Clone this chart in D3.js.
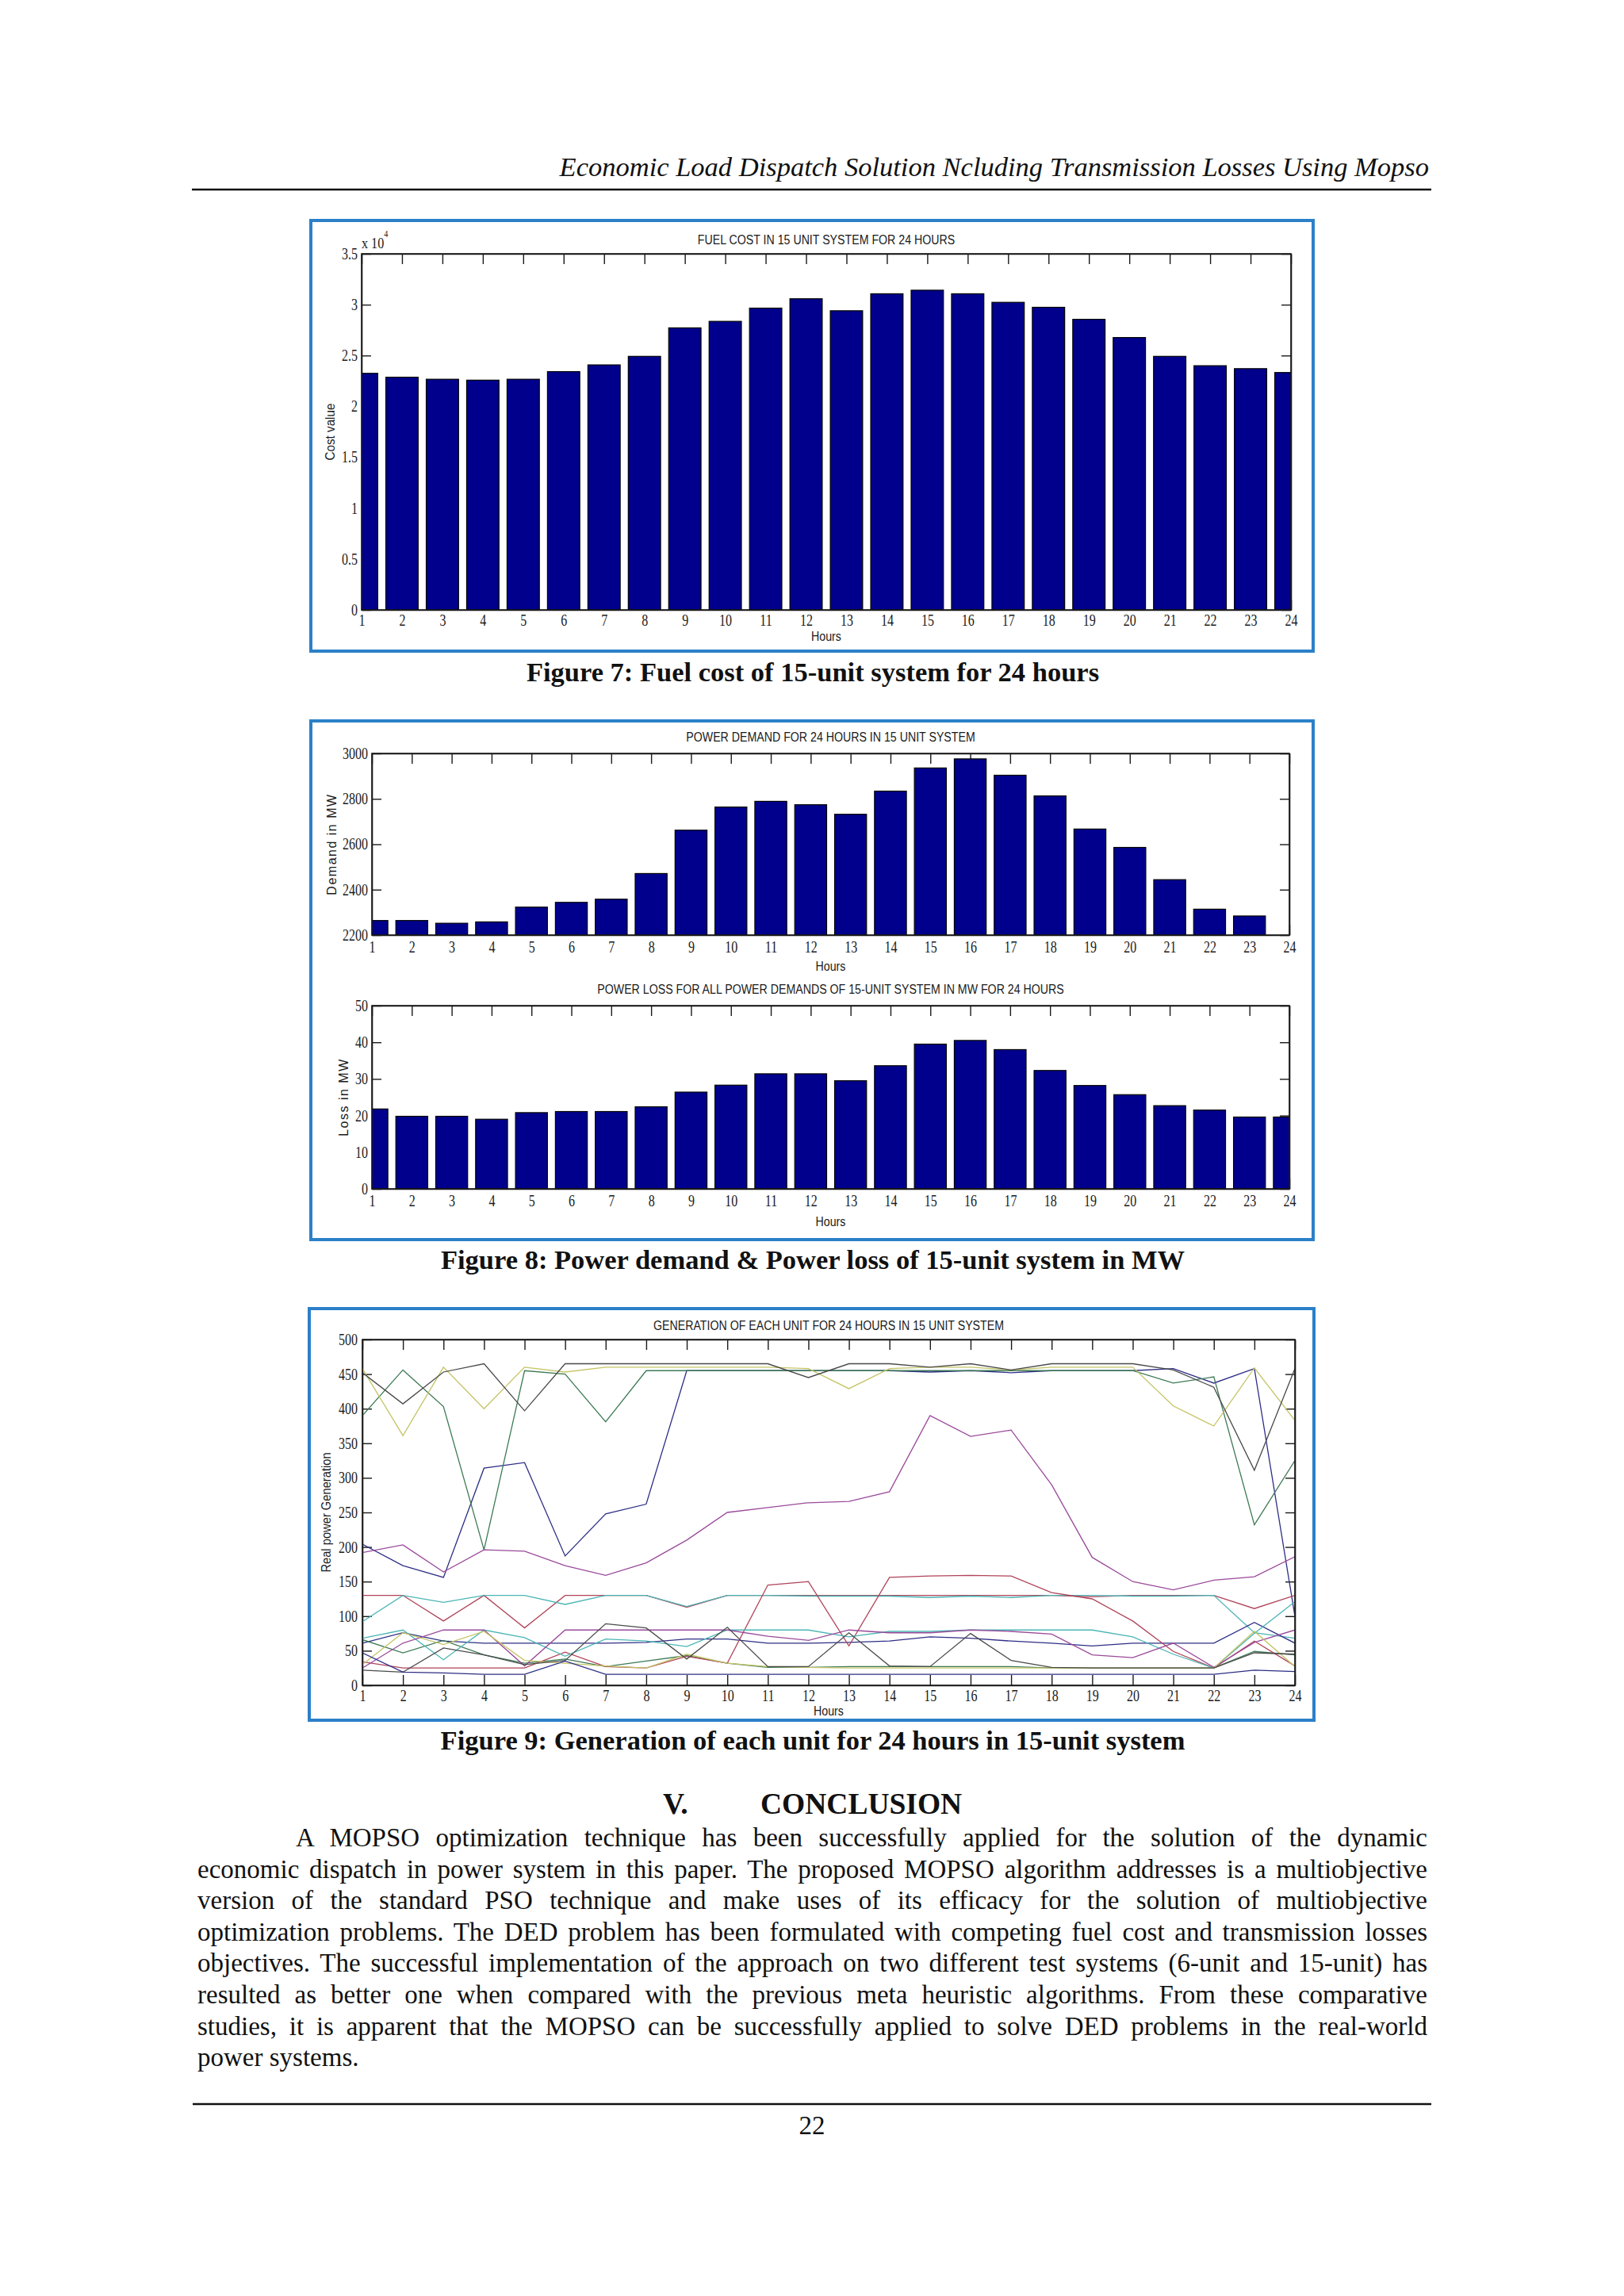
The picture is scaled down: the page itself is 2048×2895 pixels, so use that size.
<!DOCTYPE html>
<html>
<head>
<meta charset="utf-8">
<script src="https://cdn.jsdelivr.net/npm/d3@7"></script>
<style>
  body { margin: 0; background: #fff; }
  svg { display: block; }
</style>
</head>
<body>
<div id="page"></div>
<script>
// hours on the x axis
const hours = d3.range(1, 25);

// fig 7 - fuel cost (plotted as x 10^4)
const fuelCost = [23250, 22870, 22670, 22580, 22670, 23420, 24080, 24920, 27720, 28360, 29660, 30580,
  29400, 31070, 31420, 31070, 30230, 29740, 28560, 26770, 24920, 24000, 23710, 23330];
const costTicks = [0, 5000, 10000, 15000, 20000, 25000, 30000, 35000];

// fig 8 - demand and loss
const demand = [2264, 2264, 2252, 2258, 2323, 2344, 2358, 2471, 2662, 2764, 2789, 2774,
  2732, 2834, 2936, 2976, 2904, 2813, 2667, 2586, 2444, 2314, 2284, 2200];
const demandTicks = [2200, 2400, 2600, 2800, 3000];
const loss = [21.8, 19.8, 19.8, 19.0, 20.8, 21.1, 21.1, 22.4, 26.4, 28.3, 31.4, 31.4,
  29.5, 33.6, 39.5, 40.5, 38.0, 32.3, 28.2, 25.7, 22.7, 21.5, 19.6, 19.6];
const lossTicks = [0, 10, 20, 30, 40, 50];

// fig 9 - generation of each unit
const unit1 = [204, 173, 156, 314, 322, 187, 248, 262, 455, 455, 455, 455, 455, 455, 453, 455, 452, 455, 455, 455, 458, 437, 458, 100];
const unit2 = [390, 456, 403, 196, 455, 450, 381, 455, 455, 455, 455, 455, 455, 455, 455, 455, 455, 455, 455, 455, 437, 446, 232, 325];
const unit3 = [130, 130, 93, 130, 83, 130, 130, 130, 113, 130, 130, 130, 130, 130, 130, 130, 130, 130, 128, 130, 130, 130, 111, 130];
const unit4 = [92, 130, 120, 130, 130, 117, 130, 130, 114, 130, 130, 129, 129, 129, 127, 129, 127, 130, 130, 129, 129, 130, 76, 68];
const unit5 = [192, 203, 164, 196, 194, 173, 159, 177, 210, 250, 257, 264, 266, 280, 390, 360, 369, 290, 185, 150, 138, 152, 157, 186];
const unit6 = [458, 361, 460, 400, 460, 453, 460, 460, 460, 460, 460, 458, 429, 458, 460, 460, 456, 460, 460, 460, 404, 375, 459, 383];
const unit7 = [452, 407, 453, 465, 397, 465, 465, 465, 465, 465, 465, 445, 465, 465, 460, 465, 456, 465, 465, 465, 456, 431, 311, 458];
const unit8 = [61, 76, 64, 61, 61, 61, 61, 62, 67, 67, 61, 61, 62, 64, 70, 68, 64, 61, 57, 61, 61, 61, 91, 61];
const unit9 = [66, 47, 65, 44, 32, 38, 27, 35, 43, 32, 26, 26, 27, 27, 27, 27, 27, 25, 25, 25, 25, 25, 49, 44];
const unit10 = [34, 25, 25, 25, 25, 48, 27, 25, 42, 32, 145, 150, 57, 156, 158, 159, 158, 134, 125, 93, 49, 25, 64, 28];
const unit11 = [68, 80, 37, 80, 69, 42, 67, 64, 56, 80, 80, 80, 70, 78, 78, 80, 80, 80, 80, 70, 45, 25, 75, 121];
const unit12 = [25, 61, 80, 80, 28, 80, 80, 80, 80, 80, 71, 65, 80, 76, 76, 80, 78, 74, 44, 40, 61, 26, 62, 80];
const unit13 = [30, 76, 59, 78, 36, 32, 28, 25, 45, 32, 27, 26, 25, 25, 25, 25, 25, 25, 25, 25, 25, 25, 78, 27];
const unit14 = [22, 19, 54, 44, 30, 36, 89, 83, 38, 84, 27, 27, 76, 28, 27, 75, 36, 26, 25, 25, 25, 25, 47, 45];
const unit15 = [47, 19, 18, 16, 16, 35, 16, 16, 16, 16, 16, 16, 16, 16, 16, 16, 16, 16, 16, 16, 16, 16, 22, 20];
const units = [unit1, unit2, unit3, unit4, unit5, unit6, unit7, unit8, unit9, unit10, unit11, unit12, unit13, unit14, unit15];
const genTicks = d3.range(0, 501, 50);

// matlab colour order, toned down like the scan
const lineColors = ['#2e2e86', '#3d7a55', '#b0445a', '#4bb5b5', '#9a4a9a', '#c4c466', '#4a4a4a'];

const bodyLines = [
  'A MOPSO optimization technique has been successfully applied for the solution of the dynamic',
  'economic dispatch in power system in this paper. The proposed MOPSO algorithm addresses is a multiobjective',
  'version of the standard PSO technique and make uses of its efficacy for the solution of multiobjective',
  'optimization problems. The DED problem has been formulated with competing fuel cost and transmission losses',
  'objectives. The successful implementation of the approach on two different test systems (6-unit and 15-unit) has',
  'resulted as better one when compared with the previous meta heuristic algorithms. From these comparative',
  'studies, it is apparent that the MOPSO can be successfully applied to solve DED problems in the real-world',
  'power systems.'
];

const W = 2048, H = 2895;
const serif = "'Liberation Serif', 'Times New Roman', serif";
const sans = "'Liberation Sans', Arial, sans-serif";
const ink = '#1a1a1a';
const frameColor = '#2b80c8';
const barColor = '#00008c';

const svg = d3.select('#page').append('svg')
  .attr('width', W)
  .attr('height', H);

svg.append('rect').attr('width', W).attr('height', H).attr('fill', '#fff');

function label(parent, x, y, str, o = {}) {
  const t = parent.append('text')
    .attr('transform', `translate(${x},${y})${o.rotate ? ' rotate(-90)' : ''} scale(${o.k || 1},1)`)
    .attr('text-anchor', o.anchor || 'middle')
    .attr('font-family', o.family || sans)
    .attr('font-size', o.size || 16.5)
    .attr('fill', o.fill || ink)
    .text(str);
  if (o.ls) t.attr('letter-spacing', o.ls);
  if (o.weight) t.attr('font-weight', o.weight);
  if (o.style) t.attr('font-style', o.style);
  return t;
}

function frame(x, y, w, h) {
  svg.append('rect')
    .attr('x', x).attr('y', y).attr('width', w).attr('height', h)
    .attr('fill', 'none')
    .attr('stroke', frameColor)
    .attr('stroke-width', 4);
}

let clipCount = 0;

// one matlab style axes box
function panel(c) {
  const x = d3.scaleLinear().domain([1, 24]).range([c.left, c.right]);
  const y = d3.scaleLinear().domain(c.yDomain).range([c.bottom, c.top]);
  const g = svg.append('g');

  const clipId = 'clip' + (clipCount++);
  svg.append('clipPath').attr('id', clipId)
    .append('rect')
    .attr('x', c.left).attr('y', c.top)
    .attr('width', c.right - c.left).attr('height', c.bottom - c.top);

  const styleAxis = sel => {
    sel.attr('font-family', serif).attr('font-size', 20);
    sel.select('.domain').attr('stroke', ink).attr('stroke-width', 1.6);
    sel.selectAll('.tick line').attr('stroke', ink).attr('stroke-width', 1.4);
    sel.selectAll('.tick text').attr('fill', ink);
  };

  g.append('g')
    .attr('transform', `translate(0,${c.bottom})`)
    .call(d3.axisBottom(x).tickValues(hours).tickSize(-13).tickSizeOuter(0).tickPadding(c.xPad))
    .call(styleAxis)
    .selectAll('.tick text').attr('transform', 'scale(0.8,1)');

  g.append('g')
    .attr('transform', `translate(0,${c.top})`)
    .call(d3.axisTop(x).tickValues(hours).tickSize(-13).tickSizeOuter(0).tickFormat(''))
    .call(styleAxis);

  g.append('g')
    .attr('transform', `translate(${c.left},0)`)
    .call(d3.axisLeft(y).tickValues(c.yTicks).tickSize(-12).tickSizeOuter(0).tickFormat(c.yFmt || (d => d)))
    .call(styleAxis)
    .selectAll('.tick text')
    .attr('x', 0)
    .attr('transform', `translate(${-c.yPad},0) scale(0.8,1)`);

  g.append('g')
    .attr('transform', `translate(${c.right},0)`)
    .call(d3.axisRight(y).tickValues(c.yTicks).tickSize(-12).tickSizeOuter(0).tickFormat(''))
    .call(styleAxis);

  label(svg, (c.left + c.right) / 2, c.titleY, c.title, { k: 0.86 });
  label(svg, (c.left + c.right) / 2, c.hoursY, 'Hours', { k: 0.86 });
  label(svg, c.ylabelX, (c.top + c.bottom) / 2, c.ylabel,
    { rotate: true, size: 16, k: c.ylabelK || 1, ls: c.ylabelLS });

  return { x, y, g, clipId, c };
}

function bars(p, values) {
  p.g.append('g')
    .attr('clip-path', `url(#${p.clipId})`)
    .selectAll('rect')
    .data(values)
    .enter()
    .append('rect')
    .attr('x', (d, i) => p.x(hours[i] - 0.4))
    .attr('width', (d, i) => p.x(hours[i] + 0.4) - p.x(hours[i] - 0.4))
    .attr('y', d => p.y(d))
    .attr('height', d => p.c.bottom - p.y(d))
    .attr('fill', barColor)
    .attr('stroke', '#000')
    .attr('stroke-width', 1.2);
}

function outline(p) {
  p.g.append('rect')
    .attr('x', p.c.left).attr('y', p.c.top)
    .attr('width', p.c.right - p.c.left).attr('height', p.c.bottom - p.c.top)
    .attr('fill', 'none')
    .attr('stroke', ink)
    .attr('stroke-width', 1.6);
}

// ---- running header ----
label(svg, 1802, 222, 'Economic Load Dispatch Solution Ncluding Transmission Losses Using Mopso',
  { anchor: 'end', family: serif, size: 34.5, style: 'italic', fill: '#111' });
svg.append('line')
  .attr('x1', 242).attr('x2', 1805).attr('y1', 239).attr('y2', 239)
  .attr('stroke', '#111').attr('stroke-width', 2.5);

// ---- figure 7 ----
frame(392, 278, 1264, 543);
const p7 = panel({
  left: 456, right: 1628, top: 320, bottom: 769,
  yDomain: [0, 35000], yTicks: costTicks, yFmt: d => d / 10000,
  xPad: 6, yPad: 5,
  title: 'FUEL COST IN 15 UNIT SYSTEM FOR 24 HOURS', titleY: 308,
  hoursY: 808, ylabel: 'Cost value', ylabelX: 422, ylabelK: 0.95
});
bars(p7, fuelCost);
outline(p7);
const exp = svg.append('text')
  .attr('transform', 'translate(456,313) scale(0.85,1)')
  .attr('font-family', serif).attr('font-size', 19).attr('fill', ink);
exp.append('tspan').text('x 10');
exp.append('tspan').attr('font-size', 12).attr('dy', -14).text('4');

label(svg, 1025, 859, 'Figure 7: Fuel cost of 15-unit system for 24 hours',
  { family: serif, size: 34.5, weight: 'bold', fill: '#111' });

// ---- figure 8 ----
frame(392, 909, 1264, 654);
const p8a = panel({
  left: 469, right: 1626, top: 950, bottom: 1179,
  yDomain: [2200, 3000], yTicks: demandTicks,
  xPad: 8, yPad: 5,
  title: 'POWER DEMAND FOR 24 HOURS IN 15 UNIT SYSTEM', titleY: 935,
  hoursY: 1224, ylabel: 'Demand in MW', ylabelX: 424, ylabelLS: 1.5
});
bars(p8a, demand);
outline(p8a);

const p8b = panel({
  left: 469, right: 1626, top: 1268, bottom: 1499,
  yDomain: [0, 50], yTicks: lossTicks,
  xPad: 8, yPad: 5,
  title: 'POWER LOSS FOR ALL POWER DEMANDS OF 15-UNIT SYSTEM IN MW FOR 24 HOURS', titleY: 1253,
  hoursY: 1546, ylabel: 'Loss in MW', ylabelX: 439, ylabelLS: 1.5
});
bars(p8b, loss);
outline(p8b);

label(svg, 1025, 1600, 'Figure 8: Power demand & Power loss of 15-unit system in MW',
  { family: serif, size: 34.5, weight: 'bold', fill: '#111' });

// ---- figure 9 ----
frame(390, 1650, 1267, 519);
const p9 = panel({
  left: 457, right: 1633, top: 1689, bottom: 2125,
  yDomain: [0, 500], yTicks: genTicks,
  xPad: 6, yPad: 6,
  title: 'GENERATION OF EACH UNIT FOR 24 HOURS IN 15 UNIT SYSTEM', titleY: 1677,
  hoursY: 2163, ylabel: 'Real power Generation', ylabelX: 417, ylabelK: 0.92
});

const line = d3.line()
  .x((d, i) => p9.x(hours[i]))
  .y(d => p9.y(d));

p9.g.append('g')
  .attr('clip-path', `url(#${p9.clipId})`)
  .selectAll('path')
  .data(units)
  .enter()
  .append('path')
  .attr('d', line)
  .attr('fill', 'none')
  .attr('stroke', (d, i) => lineColors[i % lineColors.length])
  .attr('stroke-width', 1.3);
outline(p9);

label(svg, 1025, 2206, 'Figure 9: Generation of each unit for 24 hours in 15-unit system',
  { family: serif, size: 34.5, weight: 'bold', fill: '#111' });

// ---- conclusion ----
label(svg, 836, 2287, 'V.', { anchor: 'start', family: serif, size: 37.5, weight: 'bold', fill: '#111' });
label(svg, 959, 2287, 'CONCLUSION', { anchor: 'start', family: serif, size: 37.5, weight: 'bold', fill: '#111' });

const textLeft = 249, textRight = 1800, indent = 373;
bodyLines.forEach((s, i) => {
  const x0 = i === 0 ? indent : textLeft;
  const t = svg.append('text')
    .attr('x', x0)
    .attr('y', 2328 + i * 39.6)
    .attr('font-family', serif)
    .attr('font-size', 33)
    .attr('fill', '#111')
    .text(s);
  if (i < bodyLines.length - 1) {
    const natural = t.node().getComputedTextLength();
    const gaps = s.split(' ').length - 1;
    t.attr('word-spacing', (textRight - x0 - natural) / gaps);
  }
});

svg.append('line')
  .attr('x1', 243).attr('x2', 1805).attr('y1', 2653).attr('y2', 2653)
  .attr('stroke', '#111').attr('stroke-width', 2.5);
label(svg, 1024, 2691, '22', { family: serif, size: 33, fill: '#111' });
</script>
</body>
</html>
